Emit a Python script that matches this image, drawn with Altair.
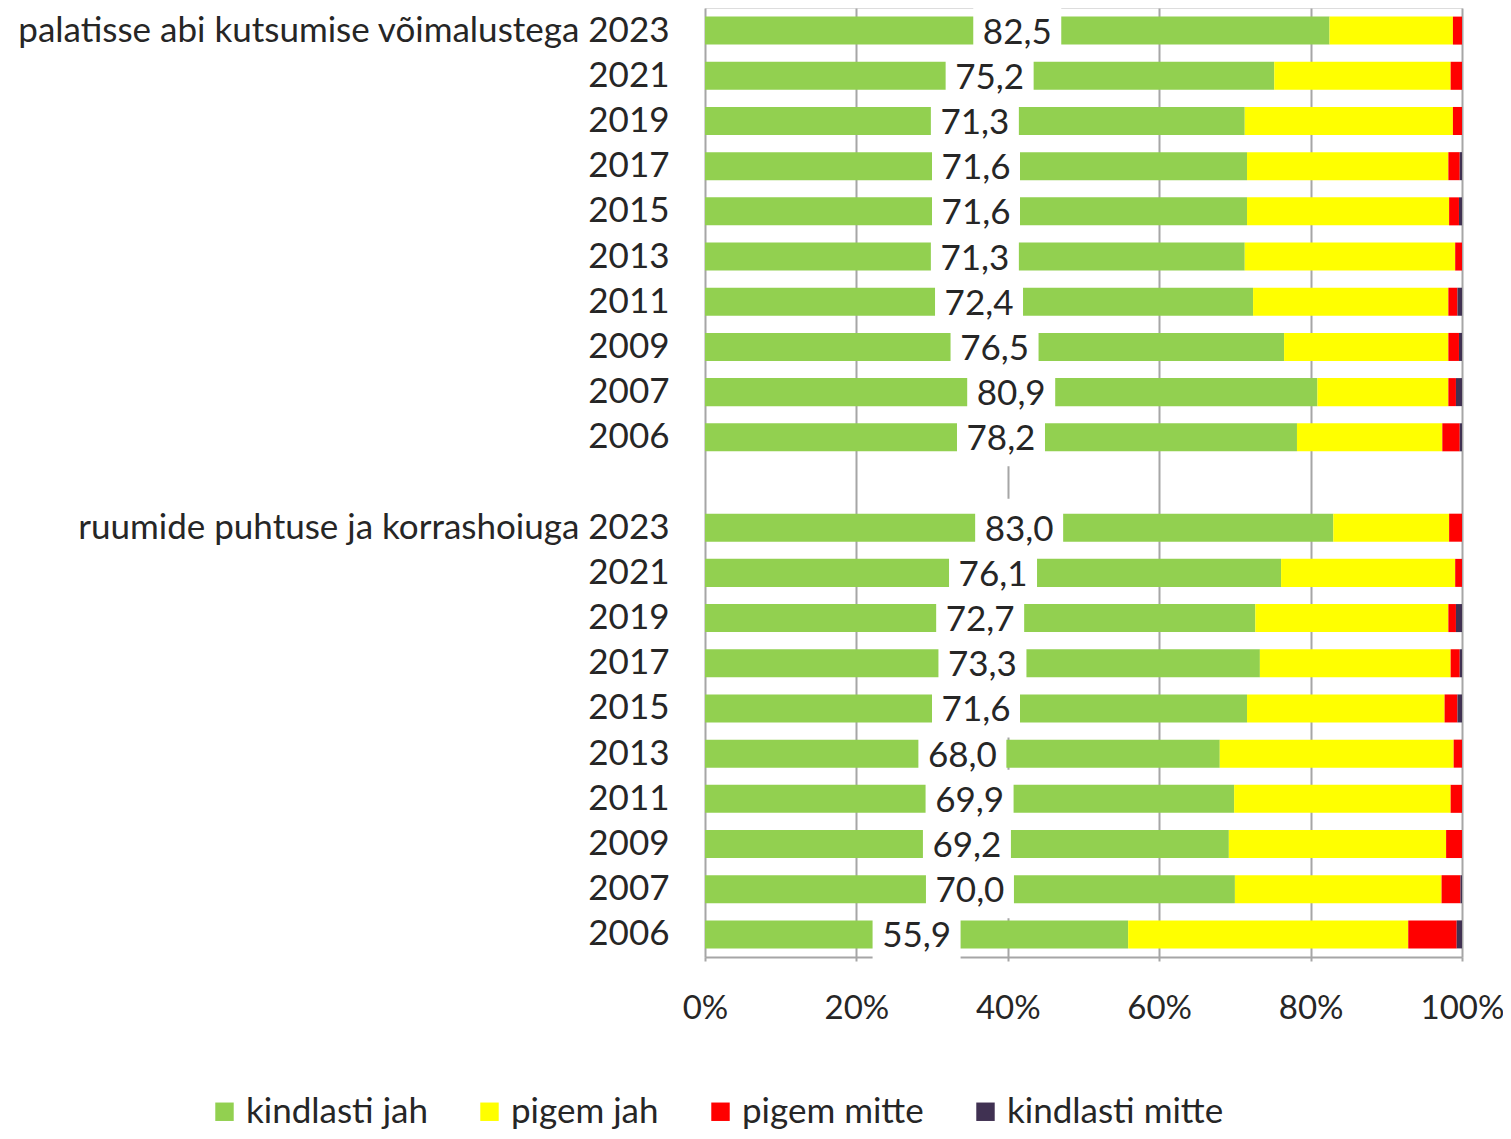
import altair as alt
import pandas as pd

# ---- data ----
groups = ["palatisse abi kutsumise võimalustega", "ruumide puhtuse ja korrashoiuga"]
years = ["2023", "2021", "2019", "2017", "2015", "2013", "2011", "2009", "2007", "2006"]
series = ["kindlasti jah", "pigem jah", "pigem mitte", "kindlasti mitte"]
colors = ["#92D050", "#FFFF00", "#FF0000", "#403152"]

# group 1: palatisse abi kutsumise võimalustega
g1_kindlasti_jah = [82.5, 75.2, 71.3, 71.6, 71.6, 71.3, 72.4, 76.5, 80.9, 78.2]
g1_pigem_jah = [16.3, 23.3, 27.5, 26.6, 26.7, 27.8, 25.8, 21.7, 17.3, 19.2]
g1_pigem_mitte = [1.2, 1.5, 1.2, 1.5, 1.3, 0.9, 1.2, 1.4, 1.0, 2.3]
g1_kindlasti_mitte = [0.0, 0.0, 0.0, 0.3, 0.4, 0.0, 0.6, 0.4, 0.8, 0.3]

# group 2: ruumide puhtuse ja korrashoiuga
g2_kindlasti_jah = [83.0, 76.1, 72.7, 73.3, 71.6, 68.0, 69.9, 69.2, 70.0, 55.9]
g2_pigem_jah = [15.3, 23.0, 25.5, 25.2, 26.1, 30.9, 28.6, 28.7, 27.3, 37.0]
g2_pigem_mitte = [1.7, 0.9, 1.0, 1.2, 1.7, 1.1, 1.5, 2.1, 2.5, 6.4]
g2_kindlasti_mitte = [0.0, 0.0, 0.8, 0.3, 0.6, 0.0, 0.0, 0.0, 0.2, 0.7]

group_values = [
    [g1_kindlasti_jah, g1_pigem_jah, g1_pigem_mitte, g1_kindlasti_mitte],
    [g2_kindlasti_jah, g2_pigem_jah, g2_pigem_mitte, g2_kindlasti_mitte],
]

# ---- build tables ----
keys = []
bar_rows = []
label_rows = []
for gi, gname in enumerate(groups):
    if gi > 0:
        keys.append("gap|")
    for yi, yr in enumerate(years):
        text = f"{gname} {yr}" if yi == 0 else yr
        key = f"{gi}|{text}"
        keys.append(key)
        for si, sname in enumerate(series):
            bar_rows.append({"key": key, "series": sname, "sidx": si,
                             "value": group_values[gi][si][yi]})
        g = group_values[gi][0][yi]
        label_rows.append({"key": key, "mid": g / 2.0,
                           "label": f"{g:.1f}".replace(".", ",")})

bars_df = pd.DataFrame(bar_rows)
labels_df = pd.DataFrame(label_rows)

FONT = "Lato"
TXT = "#262626"
GRID = "#A6A6A6"
FS = 35

y_enc = alt.Y("key:N", sort=None,
              scale=alt.Scale(domain=keys, paddingInner=0.38, paddingOuter=0.19),
              axis=alt.Axis(title=None, ticks=False, domain=False, grid=False,
                            labelExpr="split(datum.value, '|')[1]",
                            labelFontSize=FS, labelFont=FONT, labelColor=TXT,
                            labelPadding=36, labelLimit=800))

x_scale = alt.Scale(domain=[0, 100], nice=False)

bars = alt.Chart(bars_df).mark_bar().encode(
    x=alt.X("value:Q", stack="zero", scale=x_scale,
            axis=alt.Axis(title=None, values=[0, 20, 40, 60, 80, 100],
                          labelExpr="datum.value + '%'",
                          labelFontSize=33, labelFont=FONT, labelColor=TXT,
                          grid=True, gridColor=GRID, gridWidth=2,
                          domain=True, domainColor=GRID, domainWidth=2,
                          ticks=True, tickColor=GRID, tickWidth=2, tickSize=4,
                          labelPadding=31, labelFlush=False)),
    y=y_enc,
    color=alt.Color("series:N", scale=alt.Scale(domain=series, range=colors),
                    legend=alt.Legend(title=None, orient="none", direction="horizontal",
                                      legendX=-498, legendY=1086,
                                      symbolType="square", symbolSize=340,
                                      symbolStrokeWidth=0, labelFontSize=FS,
                                      labelFont=FONT, labelColor=TXT, labelOffset=4,
                                      columnPadding=44, labelLimit=500)),
    order=alt.Order("sidx:Q"),
)

boxes = alt.Chart(labels_df).mark_tick(color="white", opacity=1, thickness=88, size=58).encode(
    x=alt.X("mid:Q", scale=x_scale),
    y=alt.Y("key:N", sort=None),
)

texts = alt.Chart(labels_df).mark_text(font=FONT, fontSize=FS, color=TXT,
                                       align="center", baseline="middle", dy=2).encode(
    x=alt.X("mid:Q", scale=x_scale),
    y=alt.Y("key:N", sort=None),
    text="label:N",
)

chart = alt.layer(bars, boxes, texts).properties(
    width=757, height=949,
    autosize=alt.AutoSizeParams(type="none"),
    padding={"left": 697, "top": 0, "right": 41, "bottom": 174},
).configure_view(stroke=None).configure(font=FONT)

chart.save("out.html", embed_options={"renderer": "svg", "actions": False})
